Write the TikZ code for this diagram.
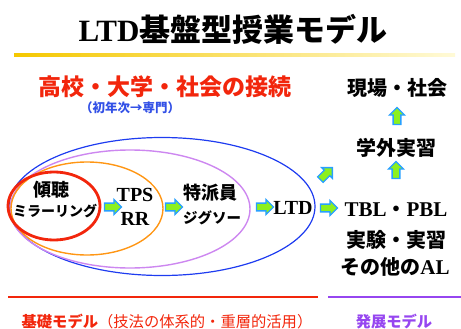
\documentclass[tikz,border=0pt]{standalone}
\usepackage{fontspec}
\usetikzlibrary{shapes.arrows}
\newfontfamily\jp{Noto Sans CJK JP}
\newfontfamily\lat{Liberation Serif}
\definecolor{myred}{RGB}{242,38,12}
\definecolor{myblue}{RGB}{30,60,240}
\definecolor{mypurple}{RGB}{205,135,240}
\definecolor{myorange}{RGB}{255,150,20}
\definecolor{txtblue}{RGB}{50,80,230}
\definecolor{botpurple}{RGB}{150,70,240}
\definecolor{agreen}{RGB}{140,240,30}
\definecolor{ablue}{RGB}{40,160,255}
\definecolor{gold}{RGB}{245,200,0}
\definecolor{paleg}{RGB}{255,250,215}
\tikzset{
  txt/.style={inner sep=0pt, font=\jp\bfseries},
  garrow/.style={single arrow, draw=ablue, fill=agreen, line width=1.3pt,
    minimum height=17pt, minimum width=15pt, inner sep=3.2pt,
    single arrow head extend=3.6pt, single arrow head indent=0pt},
}
\begin{document}
\begin{tikzpicture}[x=1pt,y=-1pt]
\useasboundingbox (0,0) rectangle (461,329);
% title
\node[txt, font=\fontsize{31}{31}\selectfont\bfseries] (title) at (233,29)
  {{\lat\fontsize{31}{31}\selectfont\bfseries LTD}{\jp 基盤型授業モデル}};
\shade[left color=gold, right color=paleg] (14,53.8) rectangle (455,56.4);
% subtitle
\node[txt, text=myred, font=\jp\bfseries\fontsize{23}{23}\selectfont] (conn) at (165,87) {高校・大学・社会の接続};
\node[txt, text=txtblue, font=\jp\bfseries\fontsize{12.5}{12.5}\selectfont] (sub) at (130,108) {（初年次→専門）};
% ellipses
\draw[myblue, line width=1.2pt] (162,206.5) ellipse [x radius=153pt, y radius=69pt];
\draw[mypurple, line width=1.4pt] (130,209) ellipse [x radius=120pt, y radius=59pt];
\draw[myorange, line width=1.4pt] (87,208.5) ellipse [x radius=76pt, y radius=46.5pt];
\draw[myred, line width=2.8pt] (54,206) ellipse [x radius=46pt, y radius=34pt];
% inner texts
\node[txt, font=\jp\bfseries\fontsize{18}{18}\selectfont] (keicho) at (52,190) {傾聴};
\node[txt, font=\jp\bfseries\fontsize{14}{14}\selectfont] (mirror) at (55,211) {ミラーリング};
\node[garrow] (a1) at (111,207) {};
\node[txt, font=\lat\bfseries\fontsize{20}{20}\selectfont] (tps) at (135,195) {TPS};
\node[txt, font=\lat\bfseries\fontsize{20}{20}\selectfont] (rr) at (135,219) {RR};
\node[garrow] (a2) at (172,207) {};
\node[txt, font=\jp\bfseries\fontsize{18}{18}\selectfont] (tokuha) at (210,193) {特派員};
\node[txt, font=\jp\bfseries\fontsize{14.5}{14.5}\selectfont] (jigsaw) at (212,218) {ジグソー};
\node[garrow] (a3) at (263,207) {};
\node[txt, font=\lat\bfseries\fontsize{20}{20}\selectfont] (ltd) at (293,208) {LTD};
% right column
\node[garrow, rotate=45] (a4) at (325,175) {};
\node[garrow] (a5) at (327,208) {};
\node[txt, font=\jp\bfseries\fontsize{20}{20}\selectfont] (genba) at (397,88) {現場・社会};
\node[garrow, rotate=90] (a6) at (397,118) {};
\node[txt, font=\jp\bfseries\fontsize{20}{20}\selectfont] (gakugai) at (396,148) {学外実習};
\node[garrow, rotate=90] (a7) at (396,172) {};
\node[txt, font=\jp\bfseries\fontsize{20}{20}\selectfont] (tbl) at (396,210)
  {{\lat\bfseries\fontsize{21}{21}\selectfont TBL}・{\lat\bfseries\fontsize{21}{21}\selectfont PBL}};
\node[txt, font=\jp\bfseries\fontsize{20}{20}\selectfont] (jikken) at (396,240) {実験・実習};
\node[txt, font=\jp\bfseries\fontsize{20}{20}\selectfont] (sonota) at (395,267)
  {その他の{\lat\bfseries\fontsize{21}{21}\selectfont AL}};
% bottom
\draw[myred, line width=2.4pt] (8,297) -- (318,297);
\draw[botpurple, line width=2.4pt] (328,297) -- (461,297);
\node[txt, text=myred, font=\jp\fontsize{15.3}{15.3}\selectfont] (kiso) at (167,322)
  {{\bfseries 基礎モデル}（技法の体系的・重層的活用）};
\node[txt, text=botpurple, font=\jp\bfseries\fontsize{15.3}{15.3}\selectfont] (hatten) at (394,322) {発展モデル};
\end{tikzpicture}
\end{document}
